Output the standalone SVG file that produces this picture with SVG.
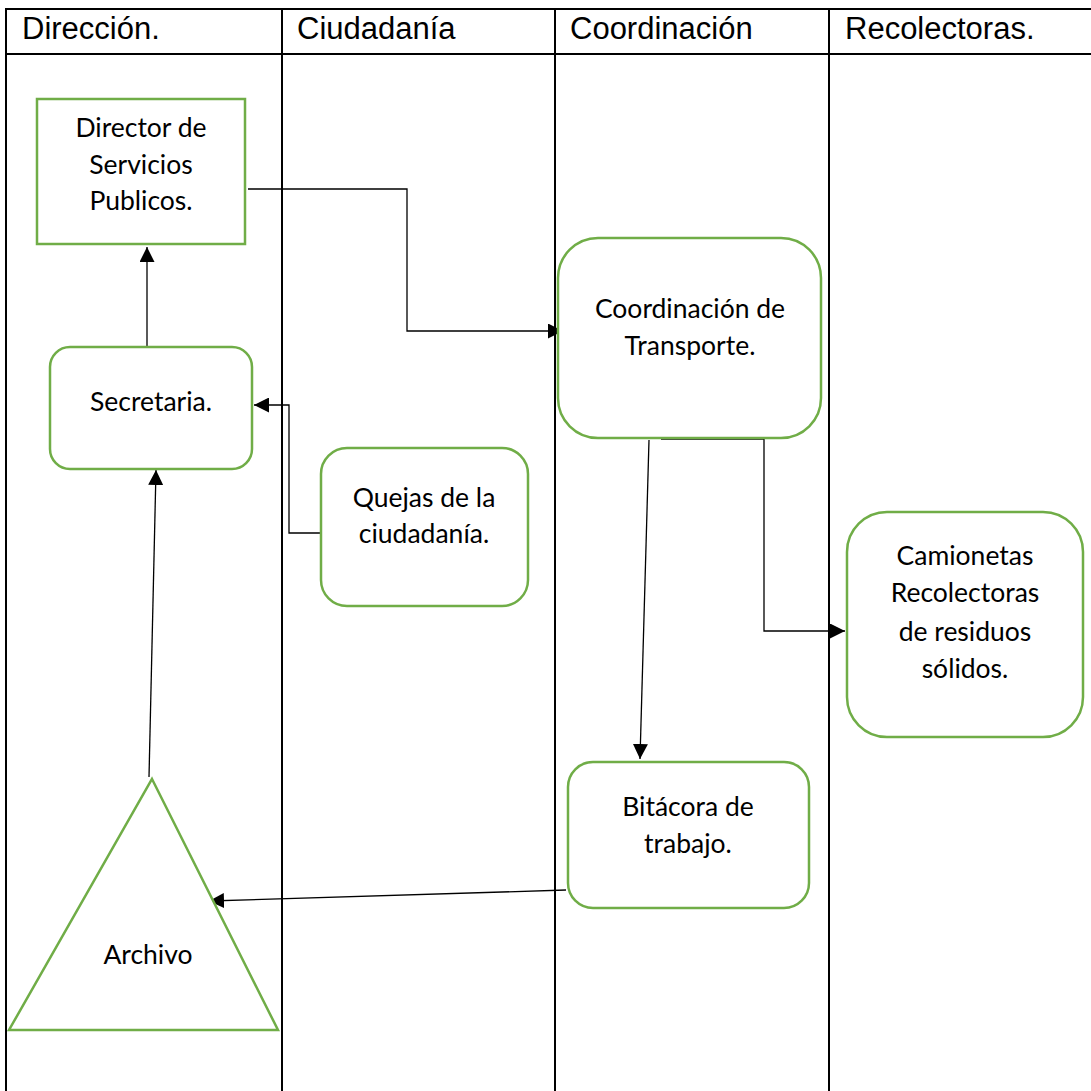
<svg xmlns="http://www.w3.org/2000/svg" width="1091" height="1091" viewBox="0 0 1091 1091">
<style>
.grid{stroke:#000;stroke-width:2;fill:none}
.hd{font-family:"Liberation Sans",Arial,sans-serif;font-size:31px;fill:#000}
.node{fill:#fff;stroke:#70AD47;stroke-width:2.5}
.lbl{font-family:Lato,"Open Sans",sans-serif;font-size:26.5px;fill:#000;text-anchor:middle}
.cn{stroke:#000;stroke-width:1.3;fill:none}
</style>
<defs>
<marker id="ah" viewBox="0 0 10 10" refX="10" refY="5" markerWidth="15" markerHeight="15" markerUnits="userSpaceOnUse" orient="auto">
<path d="M0,0 L10,5 L0,10 z" fill="#000"/>
</marker>
</defs>
<g id="lanes">
<rect class="grid" x="6" y="9" width="1090" height="1090"/>
<line class="grid" x1="6" y1="54" x2="1091" y2="54"/>
<line class="grid" x1="282" y1="9" x2="282" y2="1091"/>
<line class="grid" x1="555" y1="9" x2="555" y2="1091"/>
<line class="grid" x1="829" y1="9" x2="829" y2="1091"/>
<text class="hd" x="22" y="39">Dirección.</text>
<text class="hd" x="297" y="39">Ciudadanía</text>
<text class="hd" x="570" y="39">Coordinación</text>
<text class="hd" x="845" y="39">Recolectoras.</text>
</g>
<g id="connectors">
<polyline class="cn" points="248,189 407,189 407,331 563,331" marker-end="url(#ah)"/>
<line class="cn" x1="147" y1="347" x2="147" y2="247" marker-end="url(#ah)"/>
<polyline class="cn" points="325,533 289,533 289,405 254,405" marker-end="url(#ah)"/>
<line class="cn" x1="149" y1="777" x2="156" y2="470" marker-end="url(#ah)"/>
<polyline class="cn" points="661,439 764,439 764,631 845,631" marker-end="url(#ah)"/>
<line class="cn" x1="649" y1="440" x2="640" y2="759" marker-end="url(#ah)"/>
<line class="cn" x1="566" y1="890" x2="209" y2="901" marker-end="url(#ah)"/>
</g>
<g id="director">
<rect class="node" x="37" y="99" width="208" height="145"/>
<text class="lbl" x="141" y="137">Director de</text>
<text class="lbl" x="141" y="174">Servicios</text>
<text class="lbl" x="141" y="210">Publicos.</text>
</g>
<g id="secretaria">
<rect class="node" x="50" y="347" width="202" height="122" rx="20"/>
<text class="lbl" x="151" y="411">Secretaria.</text>
</g>
<g id="quejas">
<rect class="node" x="321" y="448" width="207" height="158" rx="26"/>
<text class="lbl" x="424" y="507">Quejas de la</text>
<text class="lbl" x="424" y="543">ciudadanía.</text>
</g>
<g id="coordinacion">
<rect class="node" x="558" y="238" width="263" height="200" rx="40"/>
<text class="lbl" x="690" y="318">Coordinación de</text>
<text class="lbl" x="690" y="355">Transporte.</text>
</g>
<g id="camionetas">
<rect class="node" x="847" y="512" width="236" height="225" rx="40"/>
<text class="lbl" x="965" y="565">Camionetas</text>
<text class="lbl" x="965" y="602">Recolectoras</text>
<text class="lbl" x="965" y="641">de residuos</text>
<text class="lbl" x="965" y="678">sólidos.</text>
</g>
<g id="bitacora">
<rect class="node" x="568" y="762" width="241" height="146" rx="25"/>
<text class="lbl" x="688" y="816">Bitácora de</text>
<text class="lbl" x="688" y="853">trabajo.</text>
</g>
<g id="archivo">
<polygon class="node" points="152,779 278,1030 9,1030"/>
<text class="lbl" x="148" y="964">Archivo</text>
</g>
</svg>
